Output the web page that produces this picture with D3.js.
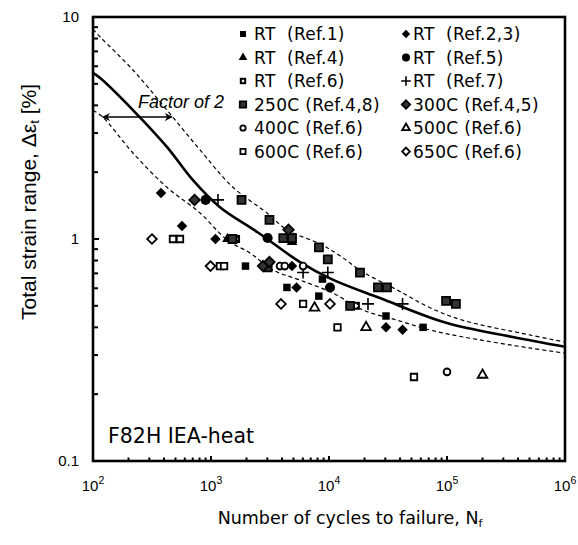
<!DOCTYPE html>
<html>
<head>
<meta charset="utf-8" />
<script src="https://d3js.org/d3.v7.min.js"></script>
<style>
  body { margin: 0; background: white; }
  text { font-family: "Liberation Sans", Arial, sans-serif; }
  .leg text { font-family: "DejaVu Sans", Verdana, sans-serif; font-size: 17px; letter-spacing: 0.3px; white-space: pre; }
</style>
</head>
<body>
<script>
// fatigue data: [cycles to failure, total strain range %]
var rt1  = [[1960,0.755],[4400,0.605],[8200,0.553],[8800,0.66],[30400,0.45],[62700,0.40]];
var rt23 = [[377,1.61],[568,1.145],[1090,1.0],[4860,0.755],[5310,0.605],[30400,0.40],[42000,0.39]];
var rt4  = [[1380,1.0],[4860,0.97],[3020,0.745]];
var rt5  = [[900,1.5],[3020,1.01],[10200,0.605]];
var rt6  = [[1630,1.0],[16900,0.50]];
var rt7  = [[1146,1.5],[6030,0.706],[9770,0.706],[21400,0.51],[42000,0.51]];
var c250 = [[1815,1.5],[1520,1.0],[3130,1.22],[4100,1.01],[4860,1.01],[8220,0.916],[9770,0.81],
            [18300,0.706],[26000,0.605],[31000,0.605],[15100,0.50],[98200,0.526],[119000,0.51],[3020,0.745]];
var c300 = [[725,1.5],[4540,1.10],[2760,0.755],[3130,0.787]];
var c400 = [[3845,0.755],[4220,0.755],[6030,0.755],[100000,0.252]];
var c500 = [[7540,0.49],[20600,0.40],[200000,0.244]];
var c600 = [[476,1.0],[546,1.0],[1190,0.755],[1290,0.755],[6030,0.51],[11800,0.40],[52500,0.239]];
var c650 = [[316,1.0],[990,0.755],[3920,0.51],[10200,0.51]];

// best fit curve and factor-of-2 bounds
var meanCurve  = [[100,5.6],[115,5.31],[218,3.81],[423,2.60],[703,1.84],[1191,1.39],[2500,1.07],
                  [5680,0.787],[10500,0.66],[27000,0.542],[100000,0.418],[360000,0.362],[1000000,0.327]];
var upperCurve = [[100,8.8],[115,8.13],[218,5.77],[423,3.81],[807,2.52],[1535,1.71],[2985,1.31],[4400,1.10],
                  [8400,0.95],[12400,0.84],[19400,0.71],[37700,0.59],[72000,0.49],[137000,0.43],[500000,0.37],[1000000,0.343]];
var lowerCurve = [[100,3.8],[121,3.54],[218,2.44],[423,1.71],[807,1.31],[1370,0.99],[2140,0.865],[3350,0.725],
                  [5680,0.653],[10800,0.571],[19400,0.479],[37700,0.431],[72000,0.389],[137000,0.362],[500000,0.323],[1000000,0.306]];

var legendLabels = ["RT  (Ref.1)", "RT  (Ref.2,3)", "RT  (Ref.4)", "RT  (Ref.5)", "RT  (Ref.6)", "RT  (Ref.7)",
                    "250C (Ref.4,8)", "300C (Ref.4,5)", "400C (Ref.6)", "500C (Ref.6)", "600C (Ref.6)", "650C (Ref.6)"];
var xTicks = [2, 3, 4, 5, 6];       // exponents
var yTicks = [0.1, 1, 10];

var W = 578, H = 545;
var x = d3.scaleLog().domain([1e2, 1e6]).range([93, 565]);
var y = d3.scaleLog().domain([0.1, 10]).range([461, 17]);

var svg = d3.select("body").append("svg")
    .attr("width", W)
    .attr("height", H);

// marker shapes
function sym(type, size) { return d3.symbol().type(type).size(size)(); }
var series = [
  {data: rt1,  type: d3.symbolSquare,   size: 56, fill: "#000", stroke: "none"},
  {data: rt23, type: d3.symbolDiamond2, size: 70, fill: "#000", stroke: "none"},
  {data: rt4,  type: d3.symbolTriangle, size: 50, fill: "#000", stroke: "none"},
  {data: rt5,  type: d3.symbolCircle,   size: 80, fill: "#000", stroke: "none"},
  {data: rt6,  type: "plusbox",         size: 64, fill: "#000", stroke: "none"},
  {data: rt7,  type: d3.symbolCross,    size: 0,  fill: "none", stroke: "#000"},
  {data: c250, type: d3.symbolSquare,   size: 64, fill: "#333", stroke: "#000"},
  {data: c300, type: d3.symbolDiamond2, size: 70, fill: "#333", stroke: "#000"},
  {data: c400, type: d3.symbolCircle,   size: 36, fill: "#fff", stroke: "#000"},
  {data: c500, type: d3.symbolTriangle, size: 40, fill: "#fff", stroke: "#000"},
  {data: c600, type: d3.symbolSquare,   size: 42, fill: "#fff", stroke: "#000"},
  {data: c650, type: d3.symbolDiamond2, size: 60, fill: "#fff", stroke: "#000"}
];

function drawMarker(g, s, scale) {
  if (s.type === "plusbox") {
    var h = 4 * scale;
    g.append("rect").attr("x", -h).attr("y", -h).attr("width", 2 * h).attr("height", 2 * h).attr("fill", "#000");
    g.append("path").attr("d", "M" + (-h + 2) + ",0H" + (h - 2) + "M0," + (-h + 2) + "V" + (h - 2))
      .attr("stroke", "#fff").attr("stroke-width", 1.6);
  } else if (s.type === d3.symbolCross) {
    var p = 6 * scale;
    g.append("path").attr("d", "M" + (-p) + ",0H" + p + "M0," + (-p) + "V" + p)
      .attr("stroke", "#000").attr("stroke-width", 1.6);
  } else {
    g.append("path").attr("d", sym(s.type, s.size * scale * scale))
      .attr("fill", s.fill)
      .attr("stroke", s.stroke)
      .attr("stroke-width", s.stroke === "none" ? 0 : 1.8);
  }
}

// curves
var line = d3.line()
    .x(function(d) { return x(d[0]); })
    .y(function(d) { return y(d[1]); })
    .curve(d3.curveCatmullRom);

svg.append("path").datum(upperCurve).attr("d", line)
    .attr("fill", "none").attr("stroke", "#000").attr("stroke-width", 1.2).attr("stroke-dasharray", "4,3");
svg.append("path").datum(lowerCurve).attr("d", line)
    .attr("fill", "none").attr("stroke", "#000").attr("stroke-width", 1.2).attr("stroke-dasharray", "4,3");
svg.append("path").datum(meanCurve).attr("d", line)
    .attr("fill", "none").attr("stroke", "#000").attr("stroke-width", 2.6);

// data points
series.forEach(function(s) {
  s.data.forEach(function(d) {
    var g = svg.append("g").attr("transform", "translate(" + x(d[0]) + "," + y(d[1]) + ")");
    drawMarker(g, s, 1);
  });
});

// factor of 2 arrow
var defs = svg.append("defs");
defs.append("marker").attr("id", "ah").attr("viewBox", "0 0 10 10")
    .attr("refX", 9).attr("refY", 5).attr("markerWidth", 10).attr("markerHeight", 8)
    .attr("markerUnits", "userSpaceOnUse").attr("orient", "auto-start-reverse")
  .append("path").attr("d", "M0,0L10,5L0,10L3,5Z").attr("fill", "#000");
svg.append("line")
    .attr("x1", x(121)).attr("x2", x(467))
    .attr("y1", y(3.54)).attr("y2", y(3.54))
    .attr("stroke", "#000").attr("stroke-width", 1.5)
    .attr("marker-start", "url(#ah)").attr("marker-end", "url(#ah)");
svg.append("text")
    .attr("x", 138).attr("y", 108)
    .style("font-size", "18px").style("font-style", "italic")
    .text("Factor of 2");

// legend
var leg = svg.append("g").attr("class", "leg");
series.forEach(function(s, i) {
  var col = i % 2, row = Math.floor(i / 2);
  var cy = 34 + row * 23.5;
  var mx = col === 0 ? 243 : 406;
  var tx = col === 0 ? 254 : 413;
  var g = leg.append("g").attr("transform", "translate(" + mx + "," + cy + ")");
  drawMarker(g, s, 0.8);
  leg.append("text").attr("x", tx).attr("y", cy).attr("dy", "0.36em").text(legendLabels[i]);
});

// material label
svg.append("text")
    .attr("x", 108).attr("y", 443)
    .style("font-family", "'DejaVu Sans', Verdana, sans-serif")
    .style("font-size", "20.5px")
    .text("F82H IEA-heat");

// ticks (drawn inward)
var tickG = svg.append("g").attr("stroke", "#000");
d3.range(2, 6).forEach(function(e) {
  d3.range(1, 10).forEach(function(m) {
    var v = m * Math.pow(10, e);
    var len = m === 1 ? 5 : 3.5;
    tickG.append("line").attr("x1", x(v)).attr("x2", x(v)).attr("y1", 461).attr("y2", 461 - len).attr("stroke-width", 2);
  });
});
[-1, 0].forEach(function(e) {
  d3.range(1, 10).forEach(function(m) {
    var v = m * Math.pow(10, e);
    var len = m === 1 ? 6 : 5;
    tickG.append("line").attr("x1", 93).attr("x2", 93 + len).attr("y1", y(v)).attr("y2", y(v)).attr("stroke-width", 2);
  });
});

// frame
svg.append("rect")
    .attr("x", 93).attr("y", 17).attr("width", 472).attr("height", 444)
    .attr("fill", "none").attr("stroke", "#000").attr("stroke-width", 2.6);

// tick labels
yTicks.forEach(function(v) {
  svg.append("text")
      .attr("x", 79).attr("y", y(v)).attr("dy", "0.36em")
      .attr("text-anchor", "end")
      .style("font-size", "15px")
      .text(String(v));
});
xTicks.forEach(function(e) {
  var t = svg.append("text")
      .attr("x", x(Math.pow(10, e))).attr("y", 491)
      .attr("text-anchor", "middle")
      .style("font-size", "15px");
  t.append("tspan").text("10");
  t.append("tspan").attr("dy", "-7").style("font-size", "10.5px").text(e);
});

// axis titles
svg.append("text")
    .attr("x", 350).attr("y", 524)
    .attr("text-anchor", "middle")
    .style("font-family", "'DejaVu Sans', Verdana, sans-serif")
    .style("font-size", "17.5px")
    .call(function(t) {
      t.append("tspan").text("Number of cycles to failure, N");
      t.append("tspan").attr("dy", 3).style("font-size", "11px").text("f");
    });

svg.append("text")
    .attr("transform", "translate(36,202)rotate(-90)")
    .attr("text-anchor", "middle")
    .style("font-size", "21px")
    .call(function(t) {
      t.append("tspan").text("Total strain range, \u0394\u03b5");
      t.append("tspan").attr("dy", 3).style("font-size", "13px").text("t");
      t.append("tspan").attr("dy", -3).text(" [%]");
    });
</script>
</body>
</html>
